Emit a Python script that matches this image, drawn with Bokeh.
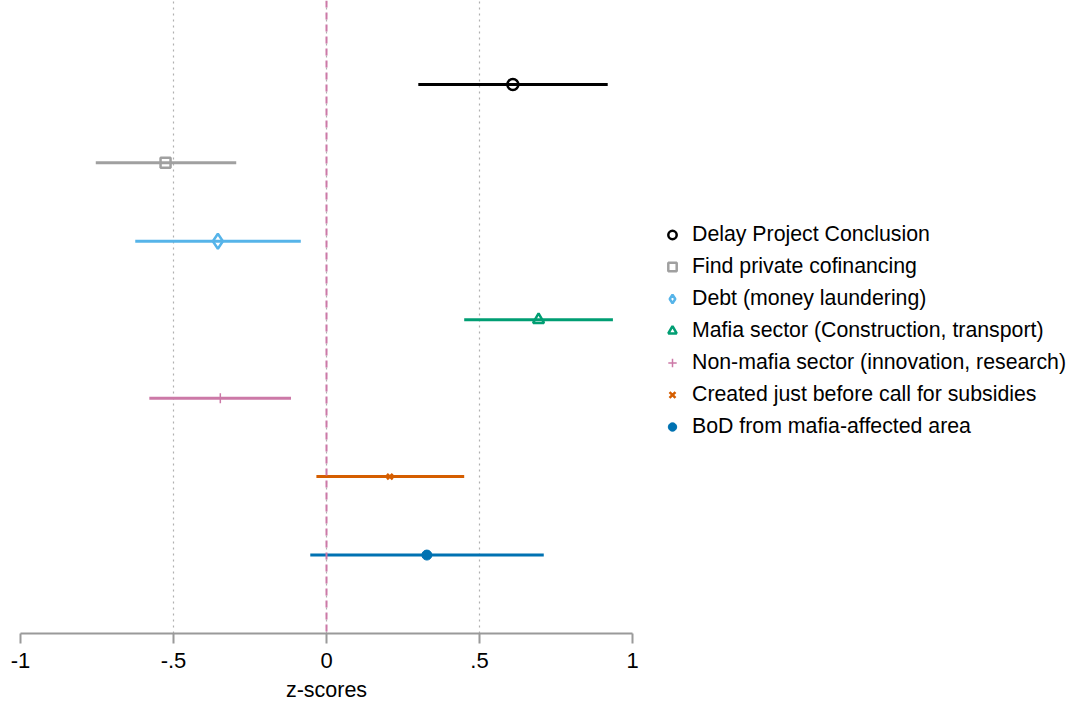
from bokeh.plotting import figure
from bokeh.models import Span, Legend, LegendItem, FixedTicker, Range1d
from bokeh.embed import file_html
from bokeh.resources import INLINE

labels = ["Delay Project Conclusion", "Find private cofinancing", "Debt (money laundering)",
          "Mafia sector (Construction, transport)", "Non-mafia sector (innovation, research)",
          "Created just before call for subsidies", "BoD from mafia-affected area"]
estimates = [0.609, -0.526, -0.355, 0.693, -0.347, 0.207, 0.328]
ci_low = [0.300, -0.754, -0.625, 0.450, -0.579, -0.033, -0.053]
ci_high = [0.919, -0.295, -0.084, 0.936, -0.116, 0.450, 0.710]
rows = [7, 6, 5, 4, 3, 2, 1]
tick_values = [-1, -0.5, 0, 0.5, 1]
tick_labels = ["-1", "-.5", "0", ".5", "1"]

colors = ["#000000", "#a0a0a0", "#56b4e9", "#009e73", "#cc79a7", "#d55e00", "#0072b2"]
markers = ["circle", "square", "diamond", "triangle", "cross", "x", "circle"]
fills = [None, None, None, None, None, None, "#0072b2"]
sizes = [11, 10, 15, 11, 10, 8, 10]
mlw = [2.5, 2.5, 2.5, 2.5, 1.5, 2.5, 1.0]

FONT = "Liberation Sans"

p = figure(frame_width=612, height=705, output_backend="svg", toolbar_location=None,
           x_range=Range1d(-1, 1), y_range=Range1d(0, 8.07),
           min_border_left=20, min_border_right=0, min_border_top=0, min_border_bottom=72)
p.outline_line_color = None
p.yaxis.visible = False
p.ygrid.visible = False
p.xgrid.grid_line_color = "#b0b0b0"
p.xgrid.grid_line_dash = "2 4"
p.xgrid.grid_line_width = 1.2
p.xaxis.ticker = FixedTicker(ticks=tick_values)
p.xaxis.major_label_overrides = {v: l for v, l in zip(tick_values, tick_labels)}
p.xaxis.axis_line_color = "#9a9a9a"
p.xaxis.axis_line_width = 2
p.xaxis.major_tick_line_color = "#9a9a9a"
p.xaxis.major_tick_line_width = 2
p.xaxis.major_tick_out = 10
p.xaxis.major_tick_in = 0
p.xaxis.minor_tick_line_color = None
p.xaxis.major_label_text_font = FONT
p.xaxis.major_label_text_font_size = "22px"
p.xaxis.major_label_text_color = "#000000"
p.xaxis.major_label_standoff = 9
p.xaxis.axis_label = "z-scores"
p.xaxis.axis_label_text_font = FONT
p.xaxis.axis_label_text_font_size = "21.5px"
p.xaxis.axis_label_text_font_style = "normal"
p.xaxis.axis_label_text_color = "#000000"
p.xaxis.axis_label_standoff = 7

p.add_layout(Span(location=0, dimension="height", line_color="#cc79a7",
                  line_dash="7 5", line_width=2))

items = []
for i in range(len(labels)):
    p.segment(x0=[ci_low[i]], x1=[ci_high[i]], y0=[rows[i]], y1=[rows[i]],
              line_color=colors[i], line_width=3)
    r = p.scatter(x=[estimates[i]], y=[rows[i]], marker=markers[i], size=sizes[i],
                  line_color=colors[i], fill_color=fills[i], line_width=mlw[i])
    items.append(LegendItem(label=labels[i], renderers=[r]))

legend = Legend(items=items, location=(20, 194), margin=20, padding=0,
                border_line_color=None, background_fill_alpha=0,
                glyph_width=40, glyph_height=21, label_height=21, spacing=7,
                label_standoff=0, label_text_font=FONT, label_text_font_size="21.3px",
                label_text_color="#000000")
p.add_layout(legend, "right")

open("out.html", "w").write(file_html(p, INLINE))
